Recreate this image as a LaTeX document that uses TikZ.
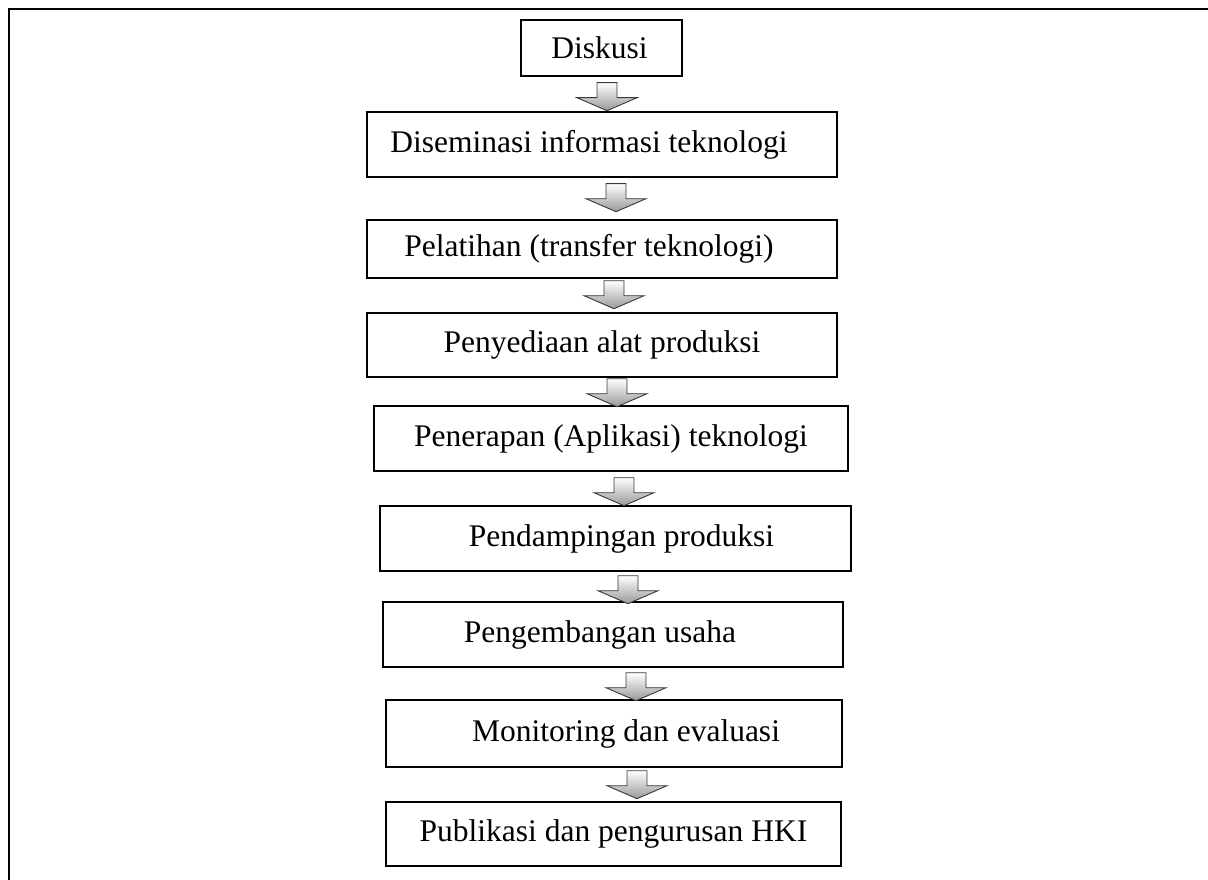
\documentclass[tikz,border=0pt]{standalone}
\usepackage{fontspec}
\setmainfont{Liberation Serif}
\usetikzlibrary{calc}
\tikzset{
  stage/.style={draw=black, line width=1.4pt, fill=white, inner sep=0pt},
  stagetext/.style={font=\fontsize{31.5}{37}\selectfont, text=black},
  frameline/.style={line width=2.6pt, draw=black},
  barrow/.pic={
    \path[draw=gray!45!black, line width=0.9pt, top color=white, bottom color=gray!80]
      (-10,0) -- (10,0) -- (10,15) -- (30,15) -- (0,28) -- (-30,15) -- (-10,15) -- cycle;
  }
}
\begin{document}
\begin{tikzpicture}[x=1pt,y=-1pt]
\useasboundingbox (0,0) rectangle (1208,880);
% outer frame (cell border)
\coordinate (ftl) at (9,9);
\coordinate (ftr) at (1208,9);
\coordinate (fbl) at (9,880);
\draw[frameline] (ftr) -- (ftl) -- (fbl);

\node[stage, minimum width=161, minimum height=56,
  label={[stagetext, xshift=-2]center:Diskusi}] (n1) at (601.5,48) {};
\node[stage, minimum width=470, minimum height=65,
  label={[stagetext, xshift=-13]center:Diseminasi informasi teknologi}] (n2) at (602,144.5) {};
\node[stage, minimum width=470, minimum height=58,
  label={[stagetext, xshift=-13]center:Pelatihan (transfer teknologi)}] (n3) at (602,249) {};
\node[stage, minimum width=470, minimum height=64,
  label={[stagetext, xshift=0]center:Penyediaan alat produksi}] (n4) at (602,345) {};
\node[stage, minimum width=474, minimum height=65,
  label={[stagetext, xshift=0]center:Penerapan (Aplikasi) teknologi}] (n5) at (611,438.5) {};
\node[stage, minimum width=471, minimum height=65,
  label={[stagetext, xshift=6]center:Pendampingan produksi}] (n6) at (615.5,538.5) {};
\node[stage, minimum width=460, minimum height=65,
  label={[stagetext, xshift=-13]center:Pengembangan usaha}] (n7) at (613,634.5) {};
\node[stage, minimum width=456, minimum height=67,
  label={[stagetext, xshift=12]center:Monitoring dan evaluasi}] (n8) at (614,733.5) {};
\node[stage, minimum width=455, minimum height=64,
  label={[stagetext, xshift=0]center:Publikasi dan pengurusan HKI}] (n9) at (613.5,834) {};

% block arrows between stages
\pic at ($(n1.south)+(5.5,6)$) {barrow};
\pic at ($(n2.south)+(14,6)$) {barrow};
\pic at ($(n3.south)+(12,2)$) {barrow};
\pic at ($(n4.south)+(15,1)$) {barrow};
\pic at ($(n5.south)+(13,6)$) {barrow};
\pic at ($(n6.south)+(12.5,4)$) {barrow};
\pic at ($(n7.south)+(23,5)$) {barrow};
\pic at ($(n8.south)+(23,3)$) {barrow};
\end{tikzpicture}
\end{document}
